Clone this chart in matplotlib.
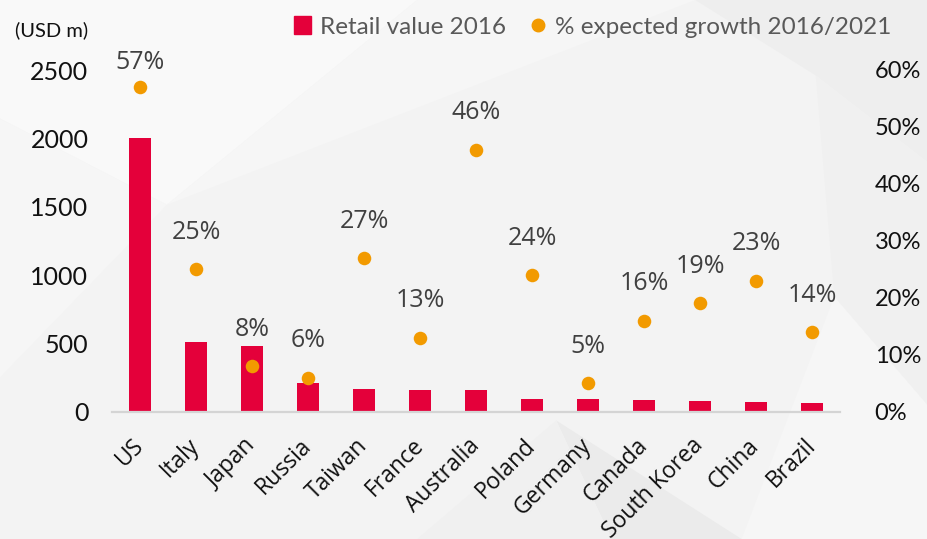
import matplotlib
matplotlib.use("Agg")
import matplotlib.pyplot as plt
from matplotlib.patches import Polygon, Rectangle
from matplotlib.lines import Line2D
from matplotlib.ticker import FuncFormatter

countries = ["US", "Italy", "Japan", "Russia", "Taiwan", "France", "Australia",
             "Poland", "Germany", "Canada", "South Korea", "China", "Brazil"]
retail_value = [2000, 510, 478, 210, 168, 156, 156, 90, 90, 83, 78, 68, 61]
growth_pct = [57, 25, 8, 6, 27, 13, 46, 24, 5, 16, 19, 23, 14]

bar_red = "#E4003A"
dot_orange = "#F29A00"

fig = plt.figure(figsize=(9.27, 5.39), dpi=100)
fig.patch.set_facecolor("#F3F3F3")

# faint low-poly backdrop
facets = [
    ([(0, 1), (0.45, 1), (0.18, 0.62), (0, 0.78)], "#F9F9F9"),
    ([(0.45, 1), (0.75, 1), (0.18, 0.62)], "#F6F6F6"),
    ([(0.75, 1), (1, 1), (1, 0.7), (0.88, 0.86)], "#EEEEEE"),
    ([(0, 0.78), (0.18, 0.62), (0, 0.3)], "#F6F6F6"),
    ([(0.6, 0.22), (0.66, 0), (0.8, 0)], "#EBEBEB"),
    ([(0.66, 0), (0.6, 0.22), (0.45, 0)], "#F0F0F0"),
    ([(0.8, 0), (1, 0), (1, 0.25), (0.9, 0.45)], "#F6F6F6"),
    ([(0.88, 0.86), (1, 0.7), (1, 0.25), (0.9, 0.45)], "#F0F0F0"),
]
for pts, col in facets:
    fig.patches.append(Polygon(pts, closed=True, transform=fig.transFigure,
                               facecolor=col, edgecolor="none", zorder=-10))

ax = fig.add_axes([112 / 927, 1 - 411.7 / 539, 728 / 927, 341.7 / 539])
ax.patch.set_alpha(0)
x = list(range(len(countries)))
ax.bar(x, retail_value, width=0.4, color=bar_red, zorder=2)
ax.set_xlim(-0.5, len(countries) - 0.5)
ax.set_ylim(0, 2500)
ax.set_yticks([0, 500, 1000, 1500, 2000, 2500])
ax.tick_params(axis="y", length=0, pad=17, labelsize=18, labelcolor="#111111")
for lab in ax.get_yticklabels():
    lab.set_fontfamily("Lato")
ax.set_xticks(x)
ax.set_xticklabels(countries, rotation=45, ha="right", va="center",
                   rotation_mode="anchor", fontsize=16.5, family="Open Sans",
                   color="#111111")
ax.tick_params(axis="x", length=0, pad=22)
for s in ["top", "left", "right"]:
    ax.spines[s].set_visible(False)
ax.spines["bottom"].set_color("#D4D4D4")
ax.spines["bottom"].set_linewidth(1.6)

ax2 = ax.twinx()
ax2.set_ylim(0, 0.6)
ax2.set_yticks([0, 0.1, 0.2, 0.3, 0.4, 0.5, 0.6])
ax2.yaxis.set_major_formatter(FuncFormatter(lambda v, _: f"{v * 100:.0f}%"))
ax2.tick_params(axis="y", length=0, pad=25, labelsize=17, labelcolor="#111111")
for lab in ax2.get_yticklabels():
    lab.set_fontfamily("Lato")
for s in ax2.spines.values():
    s.set_visible(False)

growth = [g / 100 for g in growth_pct]
ax2.scatter(x, growth, s=95, color=dot_orange, zorder=3, linewidths=0)
for i, (xi, g) in enumerate(zip(x, growth)):
    off = 18 if i == 0 else 26.5
    ax2.annotate(f"{growth_pct[i]}%", (xi, g), xytext=(0, off),
                 textcoords="offset points", ha="center", va="center",
                 fontsize=18, family="Open Sans", color="#404040")

fig.text(15 / 927, 1 - 30 / 539, "(USD m)", fontsize=14.5, family="Lato",
         color="#111111", va="center")

handles = [Rectangle((0, 0), 1, 1, color=bar_red),
           Line2D([], [], marker="o", linestyle="none", color=dot_orange, markersize=9)]
fig.legend(handles, ["Retail value 2016", "% expected growth 2016/2021"],
           loc="center left", bbox_to_anchor=(294 / 927, 1 - 27 / 539), ncol=2,
           frameon=False, borderpad=0, borderaxespad=0,
           prop={"family": "Lato", "size": 17.5},
           labelcolor="#595959", handlelength=0.7, handleheight=0.7,
           handletextpad=0.35, columnspacing=1.0)

fig.savefig("out.png", dpi=100, facecolor=fig.get_facecolor())
